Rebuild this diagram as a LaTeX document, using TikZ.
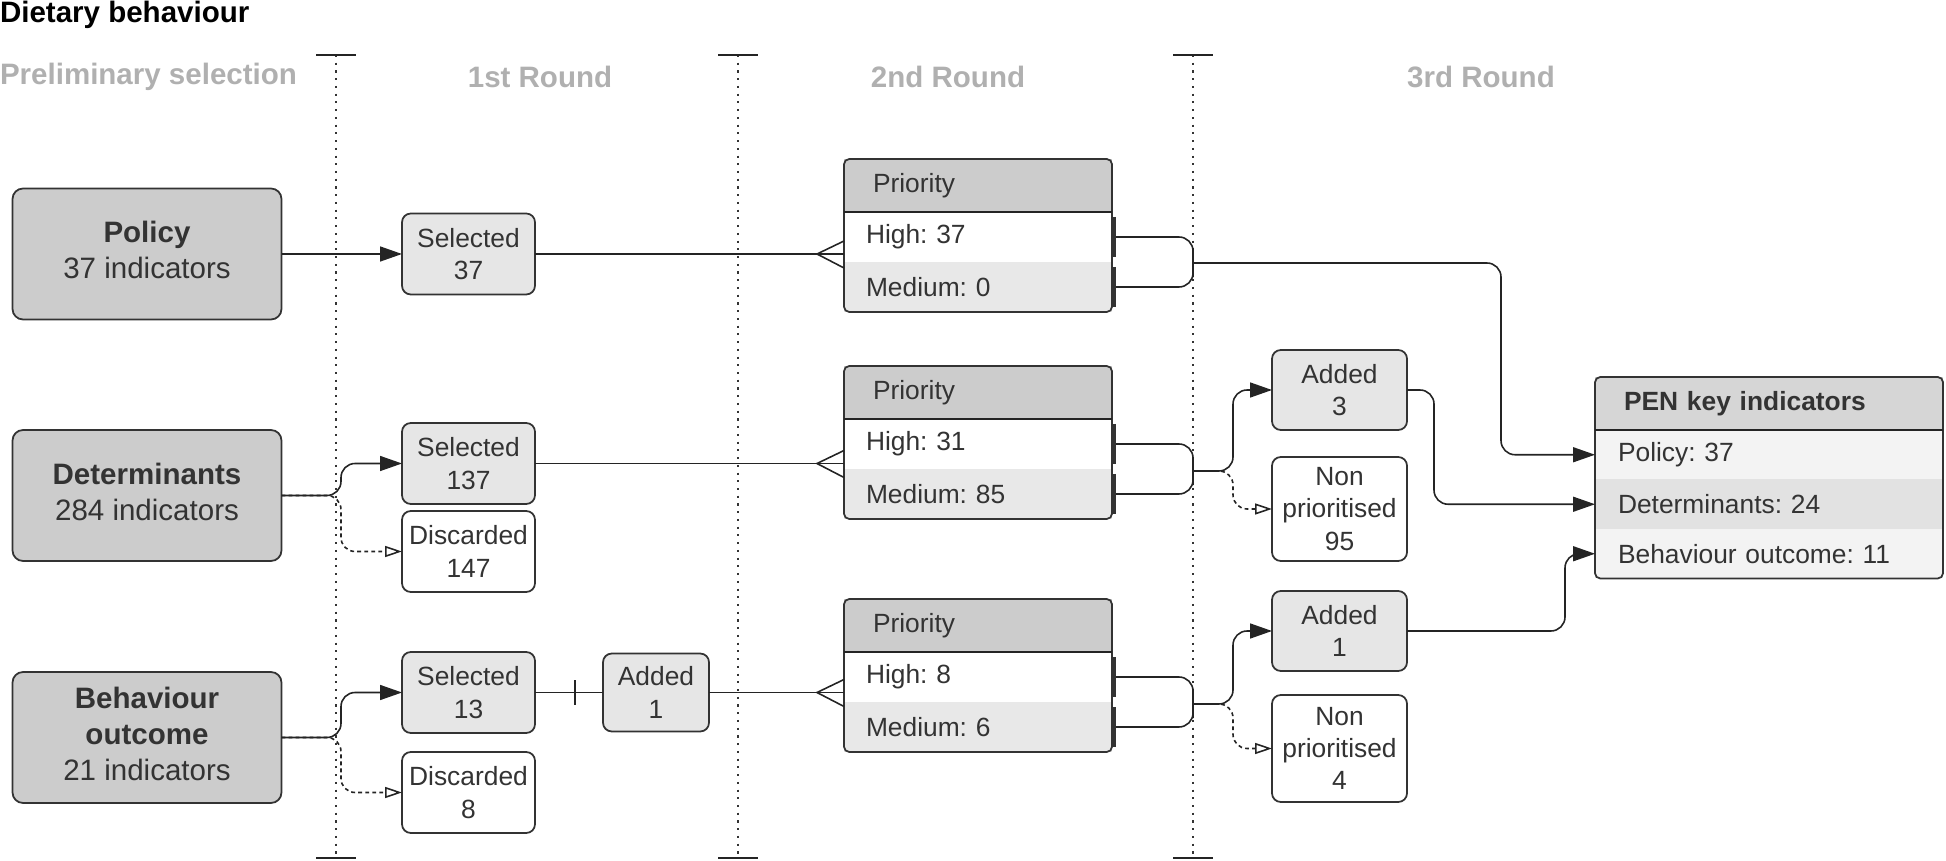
\documentclass[tikz,border=0pt]{standalone}
\usepackage{fontspec}
\setmainfont{Liberation Sans}
\usepackage{tikz}
\usetikzlibrary{arrows.meta,positioning,calc,fit}
\definecolor{dbink}{HTML}{333333}
\definecolor{dbdark}{HTML}{CCCCCC}
\definecolor{dbhead}{HTML}{D6D6D6}
\definecolor{dblight}{HTML}{E6E6E6}
\definecolor{dbrow}{HTML}{E8E8E8}
\definecolor{dbpale}{HTML}{F3F3F3}
\definecolor{dbmid}{HTML}{E2E2E2}
\definecolor{dbphase}{HTML}{B0B0B0}
\frenchspacing

\begin{document}
\begin{tikzpicture}[
font=\fontsize{7.5}{9.2}\selectfont,
text=dbink,
every node/.append style={outer sep=0pt},
mainbox/.style={rectangle, draw=dbink, line width=0.5pt, rounded corners=3pt, fill=dbdark, minimum width=2.69cm, minimum height=1.31cm, align=center, text depth=2.2pt, font=\fontsize{8.4}{10.3}\selectfont},
selbox/.style={rectangle, draw=dbink, line width=0.5pt, rounded corners=2.5pt, fill=dblight, minimum width=1.33cm, minimum height=0.81cm, inner sep=0pt, align=center},
disbox/.style={selbox, fill=white},
addbox/.style={selbox, minimum width=1.35cm, minimum height=0.80cm},
npbox/.style={addbox, fill=white, minimum height=1.04cm},
prihead/.style={rectangle, fill=dbdark, minimum width=2.68cm, minimum height=0.53cm, inner xsep=0.29cm, inner ysep=0pt, text width=2.10cm, align=left},
prirow/.style={rectangle, fill=white, minimum width=2.68cm, minimum height=0.50cm, inner xsep=0.22cm, inner ysep=0pt, text width=2.24cm, align=left},
penhead/.style={rectangle, fill=dbhead, minimum width=3.48cm, minimum height=0.53cm, inner xsep=0.29cm, inner ysep=0pt, text width=2.90cm, align=left},
penrow/.style={rectangle, fill=dbpale, minimum width=3.48cm, minimum height=0.495cm, inner xsep=0.23cm, inner ysep=0pt, text width=3.02cm, align=left},
tabframe/.style={rectangle, draw=dbink, line width=0.5pt, rounded corners=1.5pt, inner sep=0pt},
roundhead/.style={inner sep=0pt, font=\fontsize{8.4}{10}\selectfont\bfseries, text=dbphase},
link/.style={draw=dbink!70!black, line width=0.45pt},
flow/.style={link, -{Triangle[length=2.2mm, width=1.5mm]}, rounded corners=4pt},
dflow/.style={link, dash pattern=on 1.1pt off 0.9pt, -{Triangle[open, length=1.7mm, width=1.1mm]}, rounded corners=4pt},
divider/.style={dbink, line width=0.45pt, dash pattern=on 0.6pt off 1.6pt}
]
\useasboundingbox (0,0) rectangle (19.46,-8.61);

% --- Titles ---
\node (ttl) [anchor=base west, inner sep=0pt, font=\fontsize{8.4}{10}\selectfont\bfseries, text=black] at (0,-0.23) {Dietary behaviour};
\node (h0) [roundhead, anchor=base west] at (0,-0.85) {Preliminary selection};
\node (h1) [roundhead, anchor=base] at (5.40,-0.88) {1st Round};
\node (h2) [roundhead, anchor=base] at (9.48,-0.88) {2nd Round};
\node (h3) [roundhead, anchor=base] at (14.81,-0.88) {3rd Round};

% --- Round dividers ---
\draw [divider] (3.36,-0.55) -- (3.36,-8.58);
\draw [divider] (7.38,-0.55) -- (7.38,-8.58);
\draw [divider] (11.93,-0.55) -- (11.93,-8.58);
\draw [link] (3.16,-0.55) -- (3.56,-0.55);
\draw [link] (7.18,-0.55) -- (7.58,-0.55);
\draw [link] (11.73,-0.55) -- (12.13,-0.55);
\draw [link] (3.16,-8.58) -- (3.56,-8.58);
\draw [link] (7.18,-8.58) -- (7.58,-8.58);
\draw [link] (11.73,-8.58) -- (12.13,-8.58);

% --- Preliminary selection ---
\node (pol) [mainbox] at (1.47,-2.54) {\textbf{Policy}\\37 indicators};
\node (det) [mainbox] at (1.47,-4.955) {\textbf{Determinants}\\284 indicators};
\node (beh) [mainbox] at (1.47,-7.375) {\textbf{Behaviour}\\\textbf{outcome}\\21 indicators};

% --- 1st Round ---
\node (sel1) [selbox] at (4.685,-2.54) {Selected\\37};
\node (sel2) [selbox] at (4.685,-4.635) {Selected\\137};
\node (dis2) [disbox, below=0.07cm of sel2] {Discarded\\147};
\node (sel3) [selbox] at (4.685,-6.925) {Selected\\13};
\node (dis3) [disbox, below=0.19cm of sel3] {Discarded\\8};
\node (add2) [selbox, minimum width=1.06cm, minimum height=0.78cm, right=0.68cm of sel3] {Added\\1};

% --- 2nd Round: priority tables ---
\node (hd1) [prihead] at (9.78,-1.855) {Priority};
\node (hi1) [prirow, below=0pt of hd1] {High: 37};
\node (md1) [prirow, fill=dbrow, below=0pt of hi1] {Medium: 0};
\node (tb1) [tabframe, fit=(hd1)(md1)] {};
\draw [link] (hd1.south west) -- (hd1.south east);

\node (hd2) [prihead] at (9.78,-3.925) {Priority};
\node (hi2) [prirow, below=0pt of hd2] {High: 31};
\node (md2) [prirow, fill=dbrow, below=0pt of hi2] {Medium: 85};
\node (tb2) [tabframe, fit=(hd2)(md2)] {};
\draw [link] (hd2.south west) -- (hd2.south east);

\node (hd3) [prihead] at (9.78,-6.255) {Priority};
\node (hi3) [prirow, below=0pt of hd3] {High: 8};
\node (md3) [prirow, fill=dbrow, below=0pt of hi3] {Medium: 6};
\node (tb3) [tabframe, fit=(hd3)(md3)] {};
\draw [link] (hd3.south west) -- (hd3.south east);

% --- 3rd Round ---
\node (add3) [addbox] at (13.395,-3.90) {Added\\3};
\node (np2) [npbox, below=0.27cm of add3] {Non\\prioritised\\95};
\node (add4) [addbox] at (13.395,-6.31) {Added\\1};
\node (np3) [npbox, minimum height=1.07cm, below=0.24cm of add4] {Non\\prioritised\\4};

% --- PEN key indicators ---
\node (pen) [penhead] at (17.69,-4.035) {\textbf{PEN key indicators}};
\node (pp) [penrow, below=0pt of pen] {Policy: 37};
\node (pd) [penrow, fill=dbmid, below=0pt of pp] {Determinants: 24};
\node (pb) [penrow, below=0pt of pd] {Behaviour outcome: 11};
\node (tbp) [tabframe, fit=(pen)(pb)] {};
\draw [link] (pen.south west) -- (pen.south east);

% --- Preliminary -> 1st Round ---
\draw [flow] (pol) -- (sel1);
\draw [dflow] (det.east) -| ($(dis2.west)+(-0.61,0)$) -- (dis2.west);
\draw [flow] (det.east) -| ($(sel2.west)+(-0.61,0)$) -- (sel2.west);
\draw [dflow] (beh.east) -| ($(dis3.west)+(-0.61,0)$) -- (dis3.west);
\draw [flow] (beh.east) -| ($(sel3.west)+(-0.61,0)$) -- (sel3.west);

% --- 1st Round -> priority (crow's feet) ---
\coordinate (c1) at (sel1.east -| hd1.west);
\coordinate (c2) at (sel2.east -| hd2.west);
\coordinate (c3) at (add2.east -| hd3.west);
\draw [link] (sel1.east) -- (c1);
\draw [link] (sel2.east) -- (c2);
\draw [link] (sel3.east) -- (add2.west);
\draw [link] (add2.east) -- (c3);
\draw [link] ($(add2.west)+(-0.28,0.125)$) -- ($(add2.west)+(-0.28,-0.125)$);
\draw [link] ([yshift=0.13cm]c1) -- ([xshift=-0.27cm]c1) -- ([yshift=-0.14cm]c1);
\draw [link] ([yshift=0.13cm]c2) -- ([xshift=-0.27cm]c2) -- ([yshift=-0.14cm]c2);
\draw [link] ([yshift=0.13cm]c3) -- ([xshift=-0.27cm]c3) -- ([yshift=-0.14cm]c3);

% --- Priority rows -> junctions ---
\coordinate (j1) at (11.93,-2.63);
\coordinate (j2) at (11.93,-4.71);
\coordinate (j3) at (11.93,-7.04);
\draw [link, rounded corners=4pt] (hi1.east) -| (j1) |- (md1.east);
\draw [link, rounded corners=4pt] (hi2.east) -| (j2) |- (md2.east);
\draw [link, rounded corners=4pt] (hi3.east) -| (j3) |- (md3.east);
\draw [line width=1pt, dbink] ([xshift=0.02cm,yshift=-0.05cm]hi1.north east) -- ([xshift=0.02cm,yshift=0.05cm]hi1.south east);
\draw [line width=1pt, dbink] ([xshift=0.02cm,yshift=-0.05cm]md1.north east) -- ([xshift=0.02cm,yshift=0.05cm]md1.south east);
\draw [line width=1pt, dbink] ([xshift=0.02cm,yshift=-0.05cm]hi2.north east) -- ([xshift=0.02cm,yshift=0.05cm]hi2.south east);
\draw [line width=1pt, dbink] ([xshift=0.02cm,yshift=-0.05cm]md2.north east) -- ([xshift=0.02cm,yshift=0.05cm]md2.south east);
\draw [line width=1pt, dbink] ([xshift=0.02cm,yshift=-0.05cm]hi3.north east) -- ([xshift=0.02cm,yshift=0.05cm]hi3.south east);
\draw [line width=1pt, dbink] ([xshift=0.02cm,yshift=-0.05cm]md3.north east) -- ([xshift=0.02cm,yshift=0.05cm]md3.south east);

% --- 3rd Round selection ---
\draw [dflow] (j2) -| ($(np2.west)+(-0.39,0)$) -- (np2.west);
\draw [flow] (j2) -| ($(add3.west)+(-0.39,0)$) -- (add3.west);
\draw [dflow] (j3) -| ($(np3.west)+(-0.39,0)$) -- (np3.west);
\draw [flow] (j3) -| ($(add4.west)+(-0.39,0)$) -- (add4.west);

% --- Into PEN key indicators ---
\draw [flow] (j1) -| ($(pp.west)+(-0.94,0)$) -- (pp.west);
\draw [flow] (add3.east) -| ($(pd.west)+(-1.61,0)$) -- (pd.west);
\draw [flow] (add4.east) -| ($(pb.west)+(-0.30,0)$) -- (pb.west);

\end{tikzpicture}
\end{document}
